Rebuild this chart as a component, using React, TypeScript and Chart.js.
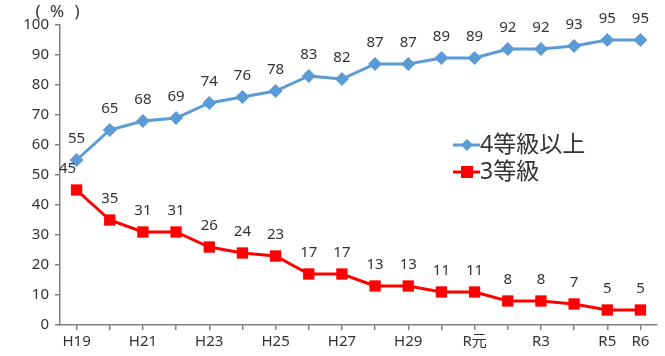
import React, { useEffect, useRef } from "react";
import { Chart, registerables } from "chart.js";

Chart.register(...registerables);

const categories = ["H19","H20","H21","H22","H23","H24","H25","H26","H27","H28","H29","H30","R元","R2","R3","R4","R5","R6"];
const shownLabels = ["H19","H21","H23","H25","H27","H29","R元","R3","R5","R6"];
const grade4Plus = [55,65,68,69,74,76,78,83,82,87,87,89,89,92,92,93,95,95];
const grade3 = [45,35,31,31,26,24,23,17,17,13,13,11,11,8,8,7,5,5];
const yTicks = [0,10,20,30,40,50,60,70,80,90,100];
const seriesNames = ["4等級以上", "3等級"];

const BLUE = "#5B9BD5";
const RED = "#FF0000";
const TEXT = "#333333";
const FONT = "'Noto Sans', 'Noto Sans CJK JP', sans-serif";

const overlay = {
  id: "overlay",
  afterDatasetsDraw(chart: any) {
    const ctx = chart.ctx;
    ctx.save();
    ctx.fillStyle = TEXT;
    ctx.font = `15px ${FONT}`;
    ctx.textAlign = "center";
    ctx.textBaseline = "middle";
    chart.data.datasets.forEach((ds: any, di: number) => {
      const meta = chart.getDatasetMeta(di);
      meta.data.forEach((pt: any, i: number) => {
        let dx = 0;
        if (di === 1 && i === 0) dx = -9;
        ctx.fillText(String(ds.data[i]), pt.x + dx, pt.y - 21);
      });
    });
    // unit label
    ctx.font = `17px ${FONT}`;
    ctx.textAlign = "center";
    ctx.fillText("(", 38, 12);
    ctx.fillText("%", 57, 12);
    ctx.fillText(")", 77, 12);
    // legend
    const lx = 453;
    const items = [
      { y: 145, color: BLUE, style: "rectRot", r: 6 },
      { y: 172, color: RED, style: "rect", r: 6 },
    ];
    items.forEach((it, k) => {
      ctx.strokeStyle = it.color;
      ctx.lineWidth = 3;
      ctx.beginPath();
      ctx.moveTo(lx, it.y);
      ctx.lineTo(lx + 27, it.y);
      ctx.stroke();
      ctx.fillStyle = it.color;
      const cx = lx + 14;
      if (it.style === "rectRot") {
        ctx.beginPath();
        ctx.moveTo(cx, it.y - it.r);
        ctx.lineTo(cx + it.r, it.y);
        ctx.lineTo(cx, it.y + it.r);
        ctx.lineTo(cx - it.r, it.y);
        ctx.closePath();
        ctx.fill();
      } else {
        ctx.fillRect(cx - 6, it.y - 6, 12, 12);
      }
      ctx.fillStyle = TEXT;
      ctx.font = `23px ${FONT}`;
      ctx.textAlign = "left";
      ctx.textBaseline = "middle";
      ctx.fillText(seriesNames[k], lx + 27, it.y);
    });
    ctx.restore();
  },
};

export default function App() {
  const ref = useRef<HTMLCanvasElement>(null);
  useEffect(() => {
    if (!ref.current) return;
    const chart = new Chart(ref.current, {
      type: "line",
      data: {
        labels: categories,
        datasets: [
          {
            label: seriesNames[0],
            data: grade4Plus,
            borderColor: BLUE,
            backgroundColor: BLUE,
            borderWidth: 3,
            pointStyle: "rectRot",
            pointRadius: 7,
            pointBorderWidth: 0,
            tension: 0,
          },
          {
            label: seriesNames[1],
            data: grade3,
            borderColor: RED,
            backgroundColor: RED,
            borderWidth: 3,
            pointStyle: "rect",
            pointRadius: 8,
            pointBorderWidth: 0,
            tension: 0,
          },
        ],
      },
      options: {
        animation: false,
        responsive: false,
        layout: { padding: { top: 25, right: 5, left: 0, bottom: 0 } },
        plugins: { legend: { display: false }, tooltip: { enabled: false } },
        scales: {
          x: {
            offset: true,
            grid: { display: true, drawOnChartArea: false, offset: false, tickLength: 5, color: "#808080", lineWidth: 1.5 },
            border: { display: true, color: "#808080", width: 1.5 },
            ticks: {
              autoSkip: false,
              maxRotation: 0,
              color: TEXT,
              font: { size: 15, family: FONT },
              padding: 3,
              callback: (_v: any, i: number) => (shownLabels.includes(categories[i]) ? categories[i] : ""),
            },
            afterFit: (s: any) => { s.height = 31; },
          },
          y: {
            min: 0,
            max: 100,
            afterBuildTicks: (s: any) => { s.ticks = yTicks.map((v) => ({ value: v })); },
            grid: { display: true, drawOnChartArea: false, tickLength: 5, color: "#808080", lineWidth: 1.5 },
            border: { display: true, color: "#808080", width: 1.5 },
            ticks: { color: TEXT, font: { size: 15, family: FONT }, padding: 6 },
            afterFit: (s: any) => { s.width = 60; },
          },
        },
      },
      plugins: [overlay],
    });
    return () => chart.destroy();
  }, []);
  return (
    <div style={{ position: "fixed", left: 0, top: 0, width: 665, height: 356, background: "#fff" }}>
      <canvas ref={ref} width={665} height={356} />
    </div>
  );
}
